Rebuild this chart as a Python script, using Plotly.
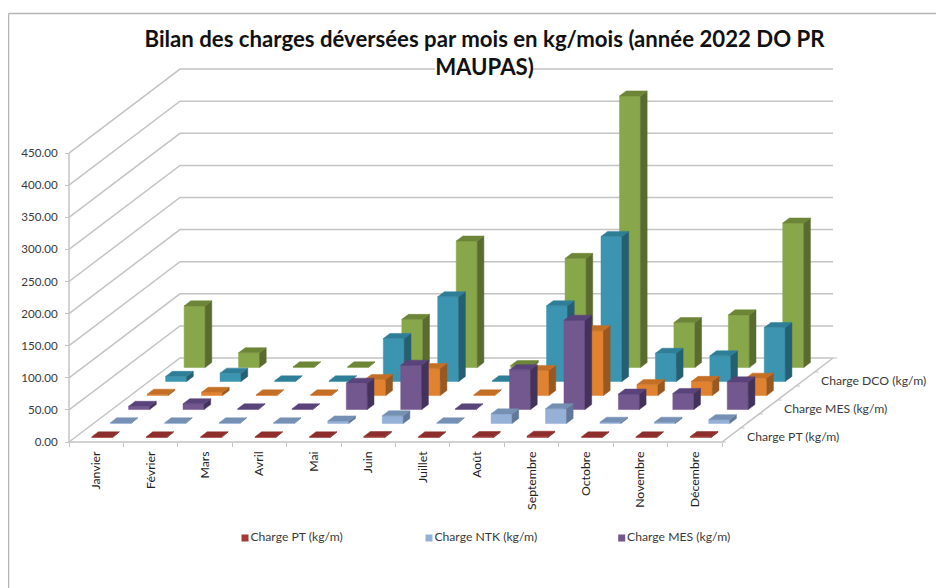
import plotly.graph_objects as go

months = ["Janvier", "Février", "Mars", "Avril", "Mai", "Juin", "Juillet", "Août",
          "Septembre", "Octobre", "Novembre", "Décembre"]
charge_pt = [1, 1, 1, 1, 1, 1.5, 1, 1.5, 2, 1, 1, 1.5]
charge_ntk = [1, 1, 1, 1, 4, 12, 1, 15, 23, 2, 2, 6]
charge_mes = [5, 9, 1, 1, 41, 69, 1, 62, 139, 24, 25, 43]
charge_s4 = [2, 5, 1, 1, 25, 42, 1, 39, 101, 17, 22, 27]
charge_dco = [8, 13, 1, 1, 67, 132, 1, 118, 226, 44, 40, 84]
charge_s6 = [96, 23, 1, 1, 75, 197, 3, 170, 423, 70, 82, 225]
y_ticks = [0, 50, 100, 150, 200, 250, 300, 350, 400, 450]
depth_labels = {0: "Charge PT (kg/m)", 2: "Charge MES (kg/m)", 4: "Charge DCO (kg/m)"}

series = [
    ("Charge PT (kg/m)", charge_pt, "#A33B38", "#7A2A28", "#8E2E2C", 245),
    ("Charge NTK (kg/m)", charge_ntk, "#95B1D8", "#62789A", "#7590B3", 429),
    ("Charge MES (kg/m)", charge_mes, "#73578F", "#43335C", "#59437A", 621.7),
    ("Série 4", charge_s4, "#E0822F", "#98581F", "#C46F26", None),
    ("Charge DCO (kg/m)", charge_dco, "#3C95B0", "#245F72", "#2F7E97", None),
    ("Série 6", charge_s6, "#88A64A", "#5A6B2F", "#6D8537", None),
]

# The page has an 8 px body margin, so the figure starts at (8, 8) of the window.
PAGE = 8
W, H = 944 - PAGE, 588 - PAGE
X0, Y0, CAT_PX = 69 - PAGE, 442 - PAGE, 54.42
PX_PER_VAL = 0.642
DX, DY = 18.5, 14.0
kx, ky = DX / CAT_PX, DY / PX_PER_VAL
BAR_W, BAR_D = 0.386, 0.36
GRID = "#C4C4C4"
TXT = "#3A3A3A"
FONT = "Lato"


def proj(m, d, v=0.0):
    """month position, depth position, value -> axis coordinates"""
    return m + d * kx, v + d * ky


def polys(shapes):
    xs, ys = [], []
    for poly in shapes:
        for m, d, v in poly + [poly[0]]:
            a, b = proj(m, d, v)
            xs.append(a)
            ys.append(b)
        xs.append(None)
        ys.append(None)
    return xs, ys


def polyline(points, color=GRID, width=1.5):
    xs, ys = [], []
    for seg in points:
        for m, d, v in seg:
            a, b = proj(m, d, v)
            xs.append(a)
            ys.append(b)
        xs.append(None)
        ys.append(None)
    return go.Scatter(x=xs, y=ys, mode="lines", line=dict(color=color, width=width),
                      hoverinfo="skip", showlegend=False)


fig = go.Figure()

# walls and floor
grid = [[(0, 0, v), (0, 6, v), (12, 6, v)] for v in y_ticks]
fig.add_trace(polyline(grid))
fig.add_trace(polyline([[(0, 0, 0), (0, 0, y_ticks[-1])],
                        [(0, 0, 0), (12, 0, 0), (12, 6, 0)]]))
fig.add_trace(polyline([[(12, d, 0), (12 + 4 / CAT_PX, d, 0)] for d in range(7)], width=1))

# bars, back row first
for s in range(len(series) - 1, -1, -1):
    name, vals, c_front, c_side, c_top, _ = series[s]
    front, side, top = [], [], []
    for i, v in enumerate(vals):
        m0, m1 = i + 0.5 - BAR_W / 2, i + 0.5 + BAR_W / 2
        d0, d1 = s + 0.5 - BAR_D / 2, s + 0.5 + BAR_D / 2
        front.append([(m0, d0, 0), (m1, d0, 0), (m1, d0, v), (m0, d0, v)])
        side.append([(m1, d0, 0), (m1, d1, 0), (m1, d1, v), (m1, d0, v)])
        top.append([(m0, d0, v), (m1, d0, v), (m1, d1, v), (m0, d1, v)])
    for faces, col in ((front, c_front), (side, c_side), (top, c_top)):
        xs, ys = polys(faces)
        fig.add_trace(go.Scatter(x=xs, y=ys, mode="lines", fill="toself", fillcolor=col,
                                 line=dict(color=col, width=0.5), hoverinfo="skip",
                                 showlegend=False, name=name))

# legend row: only three of the six series are listed in the reference
for name, vals, c_front, c_side, c_top, lx in series:
    if lx is not None:
        fig.add_trace(go.Scatter(x=[(lx - PAGE - X0) / CAT_PX], y=[(Y0 - (538 - PAGE)) / PX_PER_VAL],
                                 mode="markers+text", text=[name], textposition="middle right",
                                 marker=dict(symbol="square", size=7, color=c_front), cliponaxis=False,
                                 textfont=dict(family=FONT, size=12.2, color=TXT),
                                 hoverinfo="skip", showlegend=False, name=name))

# depth axis labels
annotations = []
for d, label in depth_labels.items():
    a, b = proj(12, d + 0.5, 0)
    annotations.append(dict(x=a, y=b, text=label, showarrow=False, xanchor="left", yanchor="middle",
                            xshift=14, yshift=-1, font=dict(family=FONT, size=12.2, color=TXT)))

fig.update_layout(
    width=W, height=H, margin=dict(l=0, r=0, t=0, b=0),
    paper_bgcolor="white", plot_bgcolor="white", showlegend=False,
    font=dict(family=FONT, color=TXT),
    title=dict(text="Bilan des charges déversées par mois en kg/mois (année 2022 DO PR<br>MAUPAS)",
               x=(484.5 - PAGE) / W, xanchor="center", y=1 - 38.5 / H, yanchor="top",
               font=dict(family=FONT, size=22.2, color="#111111", weight="bold")),
    xaxis=dict(range=[(0 - X0) / CAT_PX, (W - X0) / CAT_PX], domain=[0, 1],
               anchor="free", position=(H - Y0) / H,
               tickmode="array", tickvals=[i + 0.5 for i in range(12)], ticktext=months,
               tickangle=-90, ticks="", showgrid=False, zeroline=False, showline=False,
               tickfont=dict(family=FONT, size=12.3, color="#222222"), ticklabelstandoff=6,
               minor=dict(tickmode="array", tickvals=list(range(13)), ticks="outside",
                          ticklen=4, tickcolor=GRID, showgrid=False)),
    yaxis=dict(range=[(Y0 - H) / PX_PER_VAL, Y0 / PX_PER_VAL], domain=[0, 1],
               anchor="free", position=X0 / W,
               tickmode="array", tickvals=y_ticks, ticktext=[f"{v:.2f}" for v in y_ticks],
               ticks="outside", ticklen=4, tickcolor=GRID, showgrid=False, zeroline=False,
               showline=False, ticklabelstandoff=5, tickfont=dict(family=FONT, size=11.6, color=TXT)),
    annotations=annotations,
    shapes=[
        dict(type="rect", xref="paper", yref="paper", x0=(435 - PAGE) / W, x1=(532 - PAGE) / W,
             y0=1 - (80 - PAGE) / H, y1=1 - (60 - PAGE) / H, fillcolor="white", line=dict(width=0), layer="above"),
        dict(type="line", xref="paper", yref="paper", x0=0.5 / W, x1=1, y0=1 - 5.5 / H, y1=1 - 5.5 / H,
             line=dict(color="#B5B5B5", width=1.5)),
        dict(type="line", xref="paper", yref="paper", x0=0.5 / W, x1=0.5 / W, y0=0, y1=1 - 5.5 / H,
             line=dict(color="#B5B5B5", width=1.5)),
    ],
)

fig.write_html("out.html")
